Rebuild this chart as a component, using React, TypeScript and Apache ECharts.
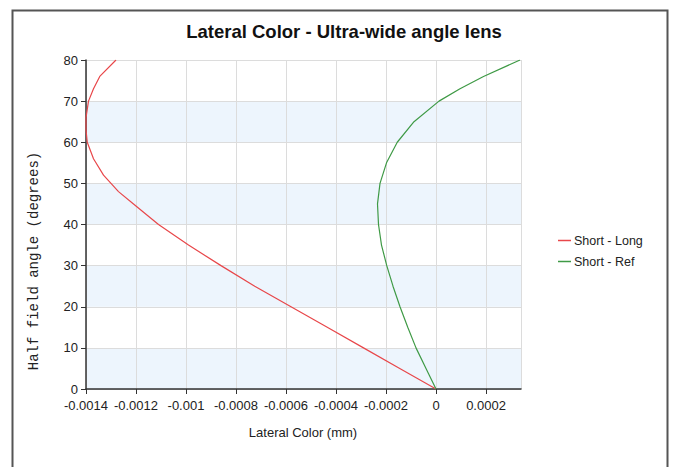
import React, { useEffect, useRef } from "react";
import * as echarts from "echarts";

const titleText = "Lateral Color - Ultra-wide angle lens";
const xAxisName = "Lateral Color (mm)";
const yAxisName = "Half field angle (degrees)";
const seriesNames = ["Short - Long", "Short - Ref"];

const redAngles = [0, 5, 10, 15, 20, 25, 30, 35, 40, 45, 48, 52, 56, 60, 63, 66, 70, 73, 76, 80];
const redValues = [
  0, -0.000145, -0.00029, -0.000435, -0.00058, -0.000725, -0.00086, -0.00099, -0.00111,
  -0.00121, -0.00127, -0.00133, -0.00137, -0.001395, -0.0014, -0.0014, -0.00139, -0.00137, -0.001345, -0.00128,
];

const greenAngles = [0, 5, 10, 15, 20, 25, 30, 35, 40, 45, 50, 55, 60, 65, 70, 73, 76, 80];
const greenValues = [
  0, -0.00004, -0.00008, -0.000113, -0.000144, -0.000172, -0.000197, -0.000218, -0.00023,
  -0.000234, -0.000224, -0.000198, -0.000155, -0.000088, 0.000012, 0.000096, 0.00019, 0.000336,
];

const xMin = -0.0014;
const xMax = 0.00034;
const xStep = 0.0002;
const yMin = 0;
const yMax = 80;
const yStep = 10;

export default function App() {
  const ref = useRef<HTMLDivElement>(null);
  useEffect(() => {
    document.body.style.margin = "0";
    if (!ref.current) return;
    const chart = echarts.init(ref.current, null, { renderer: "svg" });
    const font = "Arial, 'Liberation Sans', sans-serif";
    chart.setOption({
      animation: false,
      backgroundColor: "#ffffff",
      title: {
        text: titleText,
        left: 339,
        textAlign: "center",
        top: 17,
        textStyle: { fontFamily: font, fontSize: 18.5, fontWeight: "bold", color: "#111" },
      },
      legend: {
        orient: "vertical",
        left: 553,
        top: 229,
        itemGap: 8,
        itemWidth: 13,
        itemHeight: 1.5,
        icon: "rect",
        textStyle: { fontFamily: font, fontSize: 12.5, color: "#222", padding: [0, 0, 0, -2] },
        data: seriesNames,
      },
      grid: { left: 86, right: 152, top: 60, bottom: 78 },
      xAxis: {
        type: "value",
        min: xMin,
        max: xMax,
        interval: xStep,
        axisLine: { show: true, onZero: false, lineStyle: { color: "#333", width: 1.5 } },
        axisTick: { show: true, length: 5, lineStyle: { color: "#333" } },
        axisLabel: {
          showMaxLabel: false,
          fontFamily: font,
          fontSize: 13,
          color: "#222",
          margin: 10,
          formatter: (v: number) => String(parseFloat(v.toPrecision(6))),
        },
        splitLine: { show: true, lineStyle: { color: "#dcdcdc" } },
      },
      yAxis: {
        type: "value",
        min: yMin,
        max: yMax,
        interval: yStep,
        axisLine: { show: true, onZero: false, lineStyle: { color: "#333", width: 1.5 } },
        axisTick: { show: true, length: 5, lineStyle: { color: "#333" } },
        axisLabel: { fontFamily: font, fontSize: 13, color: "#222", margin: 8 },
        splitLine: { show: true, lineStyle: { color: "#dcdcdc" } },
        splitArea: { show: true, areaStyle: { color: ["#edf5fd", "#ffffff"] } },
      },
      graphic: [
        {
          type: "rect",
          shape: { x: 12.5, y: 10.5, width: 655, height: 480 },
          style: { fill: "none", stroke: "#555", lineWidth: 2 },
          silent: true,
        },
        {
          type: "text",
          x: 34,
          y: 261,
          rotation: Math.PI / 2,
          style: {
            text: yAxisName,
            fontFamily: "'Liberation Mono', 'DejaVu Sans Mono', monospace",
            fontSize: 14,
            fill: "#222",
            align: "center",
            verticalAlign: "middle",
          },
        },
        {
          type: "text",
          x: 303,
          y: 432,
          style: {
            text: xAxisName,
            fontFamily: font,
            fontSize: 13,
            fill: "#222",
            align: "center",
            verticalAlign: "middle",
          },
        },
      ],
      series: [
        {
          name: seriesNames[0],
          type: "line",
          showSymbol: false,
          color: "#e8474a",
          lineStyle: { width: 1.2, color: "#e8474a" },
          data: redAngles.map((a, i) => [redValues[i], a]),
        },
        {
          name: seriesNames[1],
          type: "line",
          showSymbol: false,
          color: "#3f9a46",
          lineStyle: { width: 1.2, color: "#3f9a46" },
          data: greenAngles.map((a, i) => [greenValues[i], a]),
        },
      ],
    });
    return () => chart.dispose();
  }, []);
  return <div ref={ref} style={{ width: 673, height: 467 }} />;
}
